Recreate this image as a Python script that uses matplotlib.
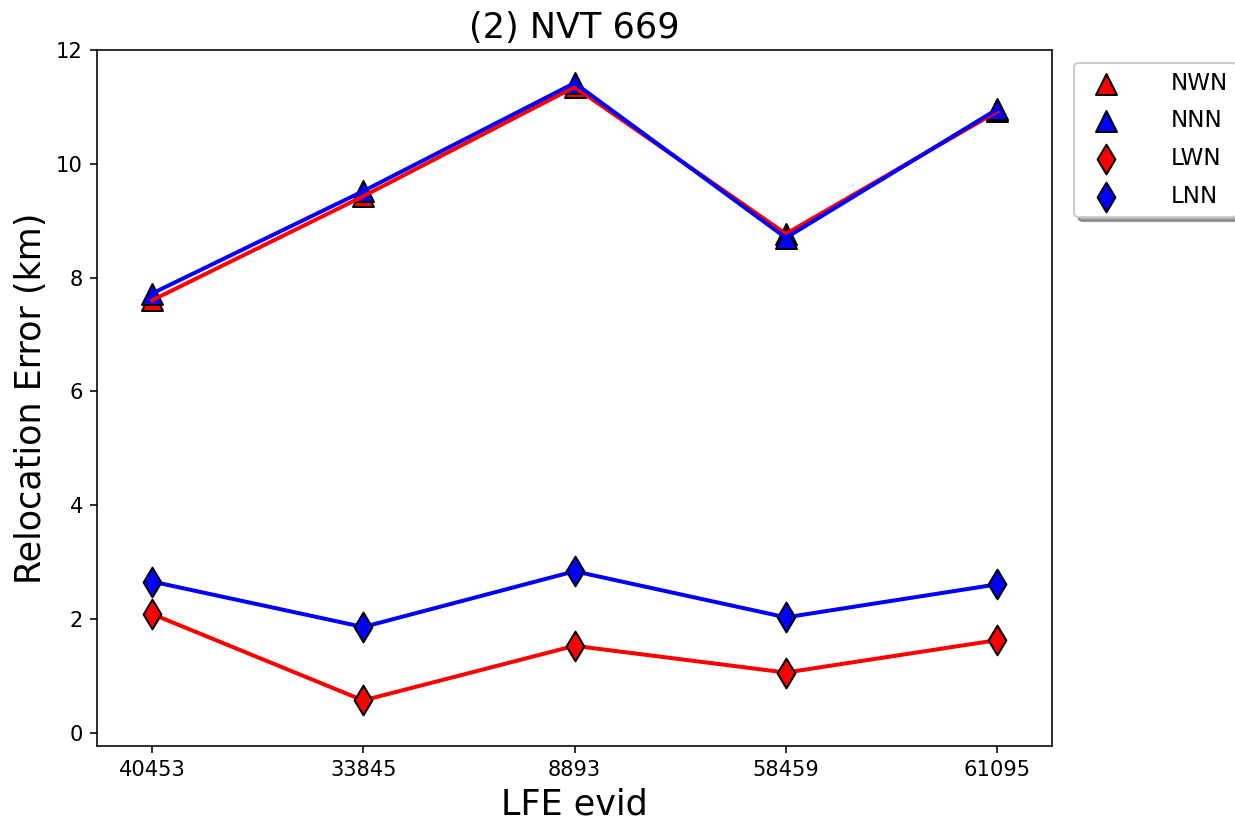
import numpy as np
import matplotlib
matplotlib.use('Agg')
import matplotlib.pyplot as plt

evids = ['40453', '33845', '8893', '58459', '61095']

nwn = [7.60, 9.43, 11.35, 8.77, 10.92]
nnn = [7.72, 9.52, 11.42, 8.70, 10.96]
lwn = [2.09, 0.57, 1.53, 1.06, 1.63]
lnn = [2.66, 1.86, 2.84, 2.03, 2.61]

x = np.arange(len(evids))

fig = plt.figure(figsize=(1235 / 144, 824 / 144), dpi=144)
ax = fig.add_axes([0.0785, 0.0947, 0.7735, 0.8446])

# triangles underneath, lines across them, diamonds on top
ax.scatter(x, nwn, marker='^', s=110, c='red', edgecolors='black', label='NWN', zorder=1)
ax.scatter(x, nnn, marker='^', s=110, c='blue', edgecolors='black', label='NNN', zorder=1)
ax.plot(x, nwn, color='red', lw=2, zorder=2)
ax.plot(x, nnn, color='blue', lw=2, zorder=2)
ax.plot(x, lwn, color='red', lw=2, zorder=2)
ax.plot(x, lnn, color='blue', lw=2, zorder=2)
ax.scatter(x, lwn, marker='d', s=110, c='red', edgecolors='black', label='LWN', zorder=3)
ax.scatter(x, lnn, marker='d', s=110, c='blue', edgecolors='black', label='LNN', zorder=3)

ax.set_xticks(x)
ax.set_xticklabels(evids)
ax.set_xlim(-0.26, 4.26)
ax.set_ylim(-0.23, 12.0)
ax.set_yticks([0, 2, 4, 6, 8, 10, 12])
ax.tick_params(labelsize=10.5)

ax.set_xlabel('LFE evid', fontsize=17.5)
ax.set_ylabel('Relocation Error (km)', fontsize=17.5)
ax.set_title('(2) NVT 669', fontsize=17.5)

ax.legend(loc='upper left', bbox_to_anchor=(1.023, 0.982), borderaxespad=0,
          shadow=True, fontsize=11.5, labelspacing=0.64, handletextpad=1.8)

plt.savefig('out.png', dpi=144)
